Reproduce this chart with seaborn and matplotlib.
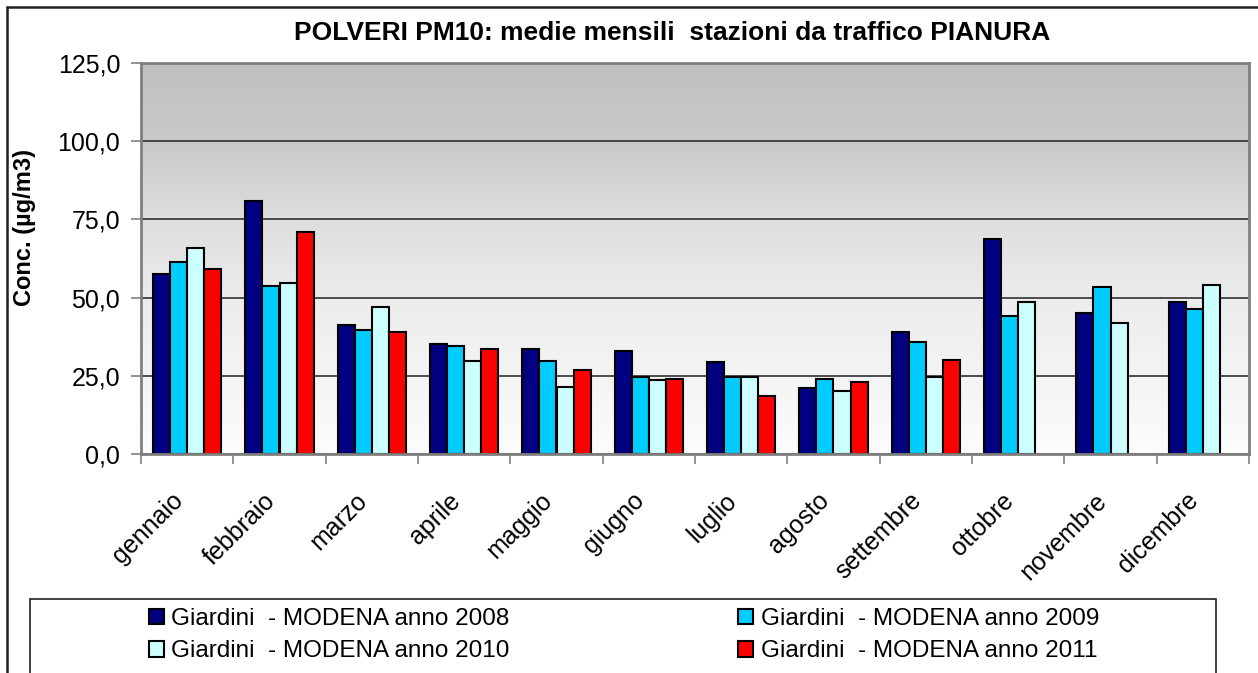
import numpy as np
import pandas as pd
import matplotlib
matplotlib.use('Agg')
import matplotlib.pyplot as plt
import matplotlib.transforms as mtransforms
from matplotlib.colors import LinearSegmentedColormap
from matplotlib.patches import Rectangle
from matplotlib.lines import Line2D
import seaborn as sns

# dati (medie mensili PM10, ug/m3)
mesi = ['gennaio', 'febbraio', 'marzo', 'aprile', 'maggio', 'giugno',
        'luglio', 'agosto', 'settembre', 'ottobre', 'novembre', 'dicembre']
anni = ['Giardini  - MODENA anno 2008', 'Giardini  - MODENA anno 2009',
        'Giardini  - MODENA anno 2010', 'Giardini  - MODENA anno 2011']
v2008 = [57.5, 80.8, 41.2, 35.2, 33.6, 32.9, 29.3, 21.0, 39.0, 68.8, 45.0, 48.7]
v2009 = [61.4, 53.8, 39.6, 34.5, 29.8, 24.7, 24.7, 23.9, 35.9, 44.1, 53.3, 46.5]
v2010 = [65.9, 54.6, 47.1, 29.8, 21.5, 23.7, 24.7, 20.2, 24.7, 48.7, 42.0, 53.9]
v2011 = [59.1, 71.1, 38.9, 33.6, 26.9, 23.9, 18.6, 23.1, 30.0, np.nan, np.nan, np.nan]
colori = ['#000080', '#00ccff', '#ccffff', '#ff0000']
yticks = [0, 25, 50, 75, 100, 125]

df = pd.DataFrame({
    'mese': mesi * 4,
    'anno': np.repeat(anni, 12),
    'valore': v2008 + v2009 + v2010 + v2011,
}).dropna()

sns.set_style('white')
plt.rcParams['font.family'] = ['Liberation Sans', 'DejaVu Sans']
plt.rcParams['text.color'] = 'black'
plt.rcParams['xtick.color'] = 'black'
plt.rcParams['ytick.color'] = 'black'

fig = plt.figure(figsize=(12.58, 6.73), dpi=100)
ax = fig.add_axes([141 / 1258, 1 - 454 / 673, 1108 / 1258, 391 / 673])

# sfondo sfumato grigio -> bianco
cmap = LinearSegmentedColormap.from_list(
    'sfondo', [(0, '#fcfcfc'), (0.4, '#ececec'), (0.6, '#dedede'),
               (0.8, '#c9c9c9'), (1.0, '#c0c0c0')])
ax.imshow(np.linspace(0, 1, 256).reshape(-1, 1), extent=[-0.5, 11.5, 0, 125],
          aspect='auto', cmap=cmap, origin='lower', zorder=-1)

sns.barplot(data=df, x='mese', y='valore', hue='anno', order=mesi, hue_order=anni,
            palette=colori, saturation=1, width=0.74, edgecolor='black',
            linewidth=1.5, errorbar=None, ax=ax)

handles = ax.legend_.legend_handles
labels = [t.get_text() for t in ax.legend_.texts]
ax.legend_.remove()

ax.set_xlim(-0.5, 11.5)
ax.set_ylim(0, 125)
ax.set_xlabel('')
ax.set_ylabel('')

ax.set_axisbelow(True)
ax.yaxis.grid(True, color='#303030', linewidth=1.2)
ax.set_yticks(yticks)
ax.set_yticklabels([f'{v:.1f}'.replace('.', ',') for v in yticks], fontsize=18)
ax.tick_params(axis='y', length=7, width=1.2, color='#808080', labelcolor='black', pad=8, left=True)

ax.set_xticks(np.arange(-0.5, 12, 1))
ax.set_xticklabels([])
ax.set_xticks(np.arange(12), minor=True)
ax.set_xticklabels(mesi, minor=True, fontsize=18, rotation=45, ha='right',
                   va='center', rotation_mode='anchor')
ax.tick_params(axis='x', which='major', length=7, width=1.2, color='#808080', bottom=True)
ax.tick_params(axis='x', which='minor', length=0, pad=31, labelcolor='black', bottom=True)
off = mtransforms.ScaledTranslation(-8 / 100, 0, fig.dpi_scale_trans)
for lab in ax.get_xticklabels(minor=True):
    lab.set_transform(lab.get_transform() + off)

for s in ax.spines.values():
    s.set_visible(True)
    s.set_color('#808080')
    s.set_linewidth(2)

fig.text(672 / 1258, 1 - 33 / 673, 'POLVERI PM10: medie mensili  stazioni da traffico PIANURA',
         ha='center', va='center', fontsize=19, fontweight='bold')
fig.text(25 / 1258, 1 - 227 / 673, 'Conc. (µg/m3)', rotation=90, ha='center', va='center',
         fontsize=17, fontweight='bold')

# cornice esterna e riquadro legenda
fig.add_artist(Line2D([7 / 1258, 1.0], [1 - 7 / 673, 1 - 7 / 673], color='#202020', linewidth=1.8))
fig.add_artist(Line2D([7 / 1258, 7 / 1258], [0, 1 - 7 / 673], color='#202020', linewidth=1.8))
fig.add_artist(Rectangle((30 / 1258, -0.05), 1186 / 1258, 0.05 + 1 - 599 / 673,
                         transform=fig.transFigure, fill=False, edgecolor='#202020', linewidth=1.2))

ordine = [0, 2, 1, 3]
fig.legend([handles[i] for i in ordine], [labels[i] for i in ordine], ncol=2,
           loc='upper left', bbox_to_anchor=(149 / 1258, 1 - 608 / 673),
           frameon=False, fontsize=17.5, handlelength=0.62, handleheight=0.62,
           handletextpad=0.3, labelspacing=0.42, columnspacing=9.4,
           borderpad=0, borderaxespad=0)

fig.savefig('out.png', dpi=100)
